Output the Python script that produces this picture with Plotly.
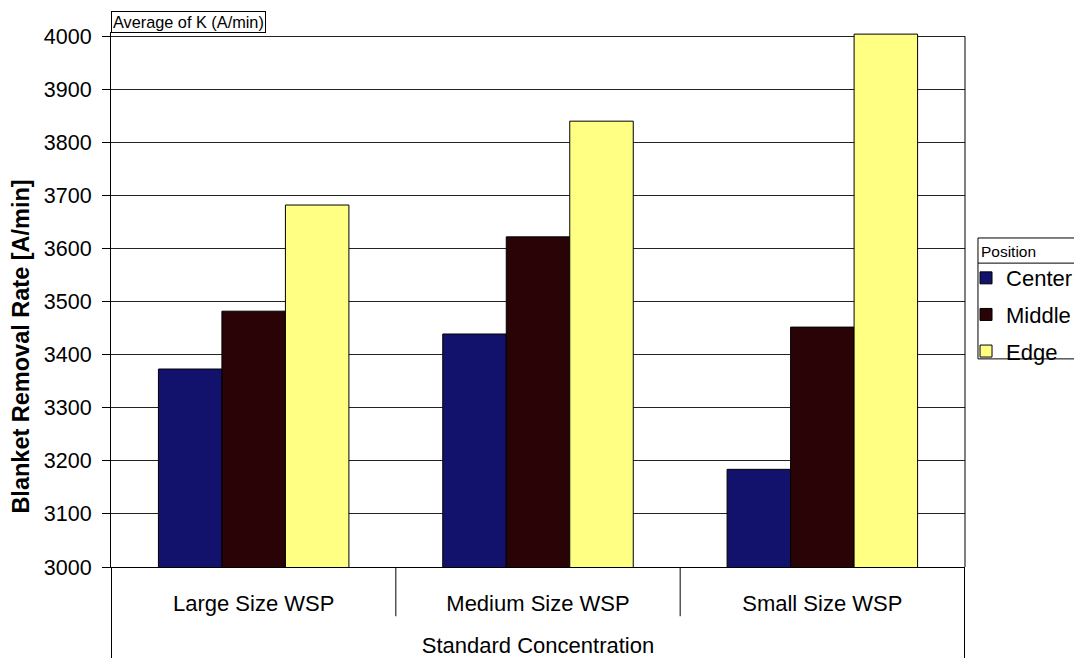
import plotly.graph_objects as go

# Average blanket removal rate by slurry particle size and wafer position
categories = ["Large Size WSP", "Medium Size WSP", "Small Size WSP"]
center = [3373, 3439, 3184]
middle = [3482, 3622, 3452]
edge = [3682, 3840, 4004]
y_ticks = [3000, 3100, 3200, 3300, 3400, 3500, 3600, 3700, 3800, 3900, 4000]

FONT = "Liberation Sans, Arial, sans-serif"

series = [
    ("Center", center, "#12126c"),
    ("Middle", middle, "#2a0306"),
    ("Edge", edge, "#ffff84"),
]

fig = go.Figure()
for name, vals, color in series:
    fig.add_trace(go.Bar(
        x=categories, y=vals, name=name, legendgroup=name,
        marker=dict(color=color, line=dict(color="black", width=1)),
    ))

fig.update_layout(
    width=1074, height=658,
    margin=dict(l=111, r=109, t=32, b=91, autoexpand=False),
    paper_bgcolor="white", plot_bgcolor="white",
    barmode="group", bargap=0.33, bargroupgap=0,
    font=dict(family=FONT, color="black"),
    showlegend=True,
    legend=dict(
        x=1.0012, y=0.617, xanchor="left", yanchor="top",
        borderwidth=0, bgcolor="rgba(0,0,0,0)",
        font=dict(size=22, family=FONT),
        title=dict(text="   Position", font=dict(size=15.5, family=FONT)),
        tracegroupgap=5, itemwidth=30,
    ),
)

# Range runs slightly past 4000 so the tallest bar shows above the top grid line
fig.update_yaxes(
    range=[3000, 4008], tickvals=y_ticks,
    tickfont=dict(size=21.5, family=FONT),
    ticks="outside", ticklen=8, tickcolor="black", ticklabelstandoff=6,
    showgrid=True, gridcolor="#222222", gridwidth=1,
    showline=True, linecolor="black", linewidth=1, mirror=False,
    zeroline=False,
)
fig.update_xaxes(
    tickfont=dict(size=22, family=FONT),
    ticks="", ticklabelstandoff=17,
    showline=True, linecolor="black", linewidth=1, mirror=False,
    title=dict(text="Standard Concentration",
               font=dict(size=22, family=FONT), standoff=23),
)

# Vertical value-axis title, set a little below the plot's middle
fig.add_annotation(
    text="<b>Blanket Removal Rate [A/min]</b>", textangle=-90,
    xref="paper", yref="paper", x=-0.1048, y=0.411,
    xanchor="center", yanchor="middle", showarrow=False,
    font=dict(size=23.5, family=FONT),
)

# Right edge of the plot frame
fig.add_shape(type="line", xref="paper", yref="y",
              x0=1, x1=1, y0=3000, y1=4000,
              line=dict(color="black", width=1))

# Category dividers below the axis and outer frame lines
for xb in (0.5, 1.5):
    fig.add_shape(type="line", xref="x", yref="paper",
                  x0=xb, x1=xb, y0=0, y1=-0.092,
                  line=dict(color="black", width=1))
for xb in (-0.5, 2.5):
    fig.add_shape(type="line", xref="x", yref="paper",
                  x0=xb, x1=xb, y0=0, y1=-0.175,
                  line=dict(color="black", width=1))

# Legend frame and the separator under its title
fig.add_shape(type="rect", xref="paper", yref="paper",
              x0=1.0152, x1=1.2, y0=0.389, y1=0.615,
              line=dict(color="black", width=1))
fig.add_shape(type="line", xref="paper", yref="paper",
              x0=1.0152, x1=1.2, y0=0.568, y1=0.568,
              line=dict(color="black", width=1))

# Data field label in the corner
fig.add_annotation(
    text="Average of K (A/min)", xref="paper", yref="y",
    x=0.0, y=4000, xanchor="left", yanchor="bottom", yshift=3,
    showarrow=False, font=dict(size=16.3, family=FONT),
    bordercolor="black", borderwidth=1, borderpad=1, bgcolor="white",
)

fig.write_html("out.html")
